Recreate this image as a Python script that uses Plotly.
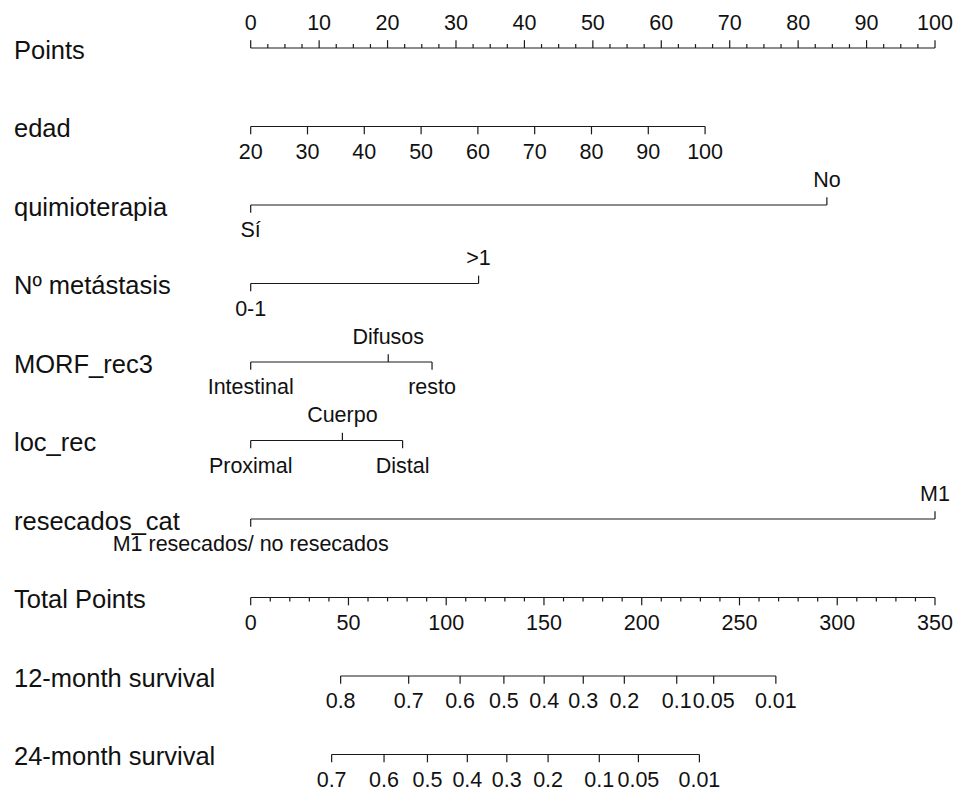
import numpy as np
import plotly.graph_objects as go

# ---- model scales (nomogram points) ----
points_ticks = list(range(0, 101, 10))
points_minor_step = 2.5

edad_ticks = [20, 30, 40, 50, 60, 70, 80, 90, 100]
edad_range = [20, 100]
edad_points = [0.0, 66.4]          # points at age 20 and age 100

quimio_levels = ["Sí", "No"]
quimio_points = [0.0, 84.2]

metast_levels = ["0-1", ">1"]
metast_points = [0.0, 33.3]

morf_levels = ["Intestinal", "Difusos", "resto"]
morf_points = [0.0, 20.1, 26.5]

loc_levels = ["Proximal", "Cuerpo", "Distal"]
loc_points = [0.0, 13.4, 22.2]

resec_levels = ["M1 resecados/ no resecados", "M1"]
resec_points = [0.0, 100.0]

total_ticks = [0, 50, 100, 150, 200, 250, 300, 350]
total_minor_step = 10
total_max = 350
points_max = 100

surv12_labels = ["0.8", "0.7", "0.6", "0.5", "0.4", "0.3", "0.2", "0.1", "0.05", "0.01"]
surv12_total = [46.0, 80.8, 107.1, 129.5, 150.1, 170.1, 191.1, 217.9, 236.8, 268.6]

surv24_labels = ["0.7", "0.6", "0.5", "0.4", "0.3", "0.2", "0.1", "0.05", "0.01"]
surv24_total = [41.4, 68.2, 90.4, 110.8, 131.0, 152.1, 178.3, 198.3, 229.5]

row_names = ["Points", "edad", "quimioterapia", "Nº metástasis", "MORF_rec3",
             "loc_rec", "resecados_cat", "Total Points", "12-month survival",
             "24-month survival"]

# ---- styling ----
FONT = "Liberation Sans, Arial, Helvetica, sans-serif"
VAR_SIZE = 25.5
TICK_SIZE = 21.5
LINE_COLOR = "#1a1a1a"
MAJOR = 0.1      # tick length in row units
MINOR = 0.05
UP_OFF = 0.30    # label offset above the line
DOWN_OFF = 0.34  # label offset below the line

line_x, line_y = [], []
text_x, text_y, text_s = [], [], []


def seg(x0, y0, x1, y1):
    line_x.extend([x0, x1, None])
    line_y.extend([y0, y1, None])


def label(x, y, s):
    text_x.append(x)
    text_y.append(y)
    text_s.append(str(s))


def axis(row, xs, labels, up, minor_xs=(), minor_up=None):
    """Horizontal scale at a row: base line, ticks, labels above or below."""
    y = -row
    seg(min(xs), y, max(xs), y)
    for x, s, u in zip(xs, labels, up):
        if u:
            seg(x, y, x, y + MAJOR)
            label(x, y + UP_OFF, s)
        else:
            seg(x, y, x, y - MAJOR)
            label(x, y - DOWN_OFF, s)
    for x in minor_xs:
        if minor_up:
            seg(x, y, x, y + MINOR)
        else:
            seg(x, y, x, y - MINOR)


def alt_sides(n):
    return [i % 2 == 1 for i in range(n)]


# Points
pm = np.arange(0, points_max + 1e-9, points_minor_step)
axis(0, points_ticks, points_ticks, [True] * len(points_ticks),
     [v for v in pm if v not in points_ticks], minor_up=True)

# edad (linear effect)
edad_x = np.interp(edad_ticks, edad_range, edad_points)
axis(1, list(edad_x), edad_ticks, [False] * len(edad_ticks))

# categorical predictors
for row, levels, pts in [(2, quimio_levels, quimio_points),
                         (3, metast_levels, metast_points),
                         (4, morf_levels, morf_points),
                         (5, loc_levels, loc_points),
                         (6, resec_levels, resec_points)]:
    axis(row, pts, levels, alt_sides(len(levels)))

# Total points, rescaled onto the points axis
scale = points_max / total_max
tm = np.arange(0, total_max + 1e-9, total_minor_step)
axis(7, [t * scale for t in total_ticks], total_ticks, [False] * len(total_ticks),
     [t * scale for t in tm if t not in total_ticks], minor_up=False)

# survival probabilities
axis(8, [t * scale for t in surv12_total], surv12_labels, [False] * len(surv12_total))
axis(9, [t * scale for t in surv24_total], surv24_labels, [False] * len(surv24_total))

fig = go.Figure()
fig.add_trace(go.Scatter(x=line_x, y=line_y, mode="lines",
                         line=dict(color=LINE_COLOR, width=1.2),
                         hoverinfo="skip", showlegend=False))
fig.add_trace(go.Scatter(x=text_x, y=text_y, text=text_s, mode="text",
                         textposition="middle center",
                         textfont=dict(family=FONT, size=TICK_SIZE, color="#111111"),
                         hoverinfo="skip", showlegend=False, cliponaxis=False))

for i, name in enumerate(row_names):
    fig.add_annotation(x=12 / 957, xref="paper", y=-i - 0.02, yref="y",
                       text=name, showarrow=False, xanchor="left", yanchor="middle",
                       font=dict(family=FONT, size=VAR_SIZE, color="#111111"))

px_per_pt = 6.843
x0_px = 250.7
row_px = 78.5
row0_px = 48
fig.update_layout(
    width=957, height=796,
    margin=dict(l=0, r=0, t=0, b=0),
    paper_bgcolor="white", plot_bgcolor="white",
    xaxis=dict(range=[-x0_px / px_per_pt, (957 - x0_px) / px_per_pt],
               visible=False, fixedrange=True),
    yaxis=dict(range=[-(796 - row0_px) / row_px, row0_px / row_px],
               visible=False, fixedrange=True),
)

fig.write_html("out.html")
